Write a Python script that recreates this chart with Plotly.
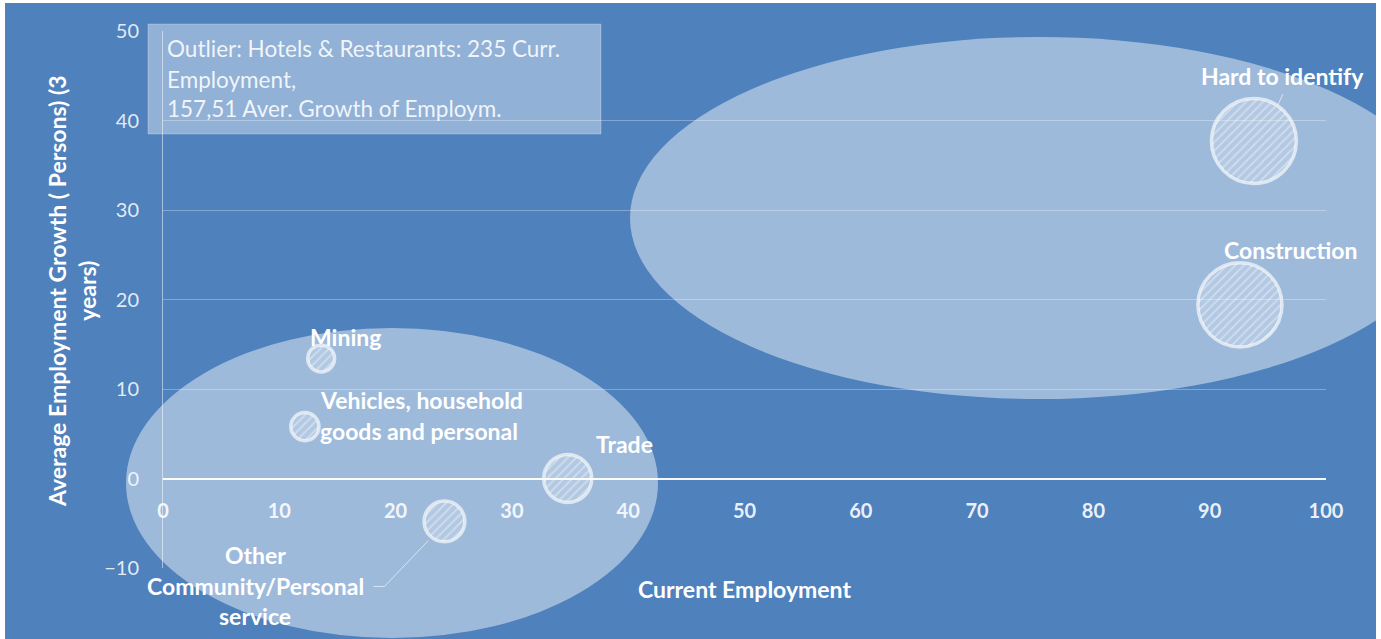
import numpy as np
import plotly.graph_objects as go

# ---------------- data ----------------
sectors = ["Hard to identify", "Construction", "Trade",
           "Other Community/Personal service", "Mining",
           "Vehicles, household goods and personal"]
current_employment = [93.8, 92.6, 34.8, 24.2, 13.6, 12.2]
avg_growth = [37.7, 19.4, 0.0, -4.8, 13.4, 5.8]
bubble_size = [100, 98, 32, 23, 10, 11]

x_ticks = [0, 10, 20, 30, 40, 50, 60, 70, 80, 90, 100]
y_ticks = [-10, 0, 10, 20, 30, 40, 50]

outlier_note = ["Outlier: Hotels & Restaurants: 235 Curr.",
                "Employment,",
                "157,51 Aver. Growth of Employm."]

# ---------------- layout constants ----------------
W, H = 1381, 639
L, R, T, B = 163, 55, 31, 71
PW, PH = W - L - R, H - T - B
XR, YR = (0, 100), (-10, 50)
px_x = PW / (XR[1] - XR[0])
px_y = PH / (YR[1] - YR[0])
MAXD = 85
sizeref = 2.0 * max(bubble_size) / MAXD ** 2

BG = "#4f81bd"
FONT = "Lato"


def pxp(p):
    return (p - L) / PW


def pyp(p):
    return (H - B - p) / PH


def data_to_paper_x(v):
    return (v - XR[0]) / (XR[1] - XR[0])


def data_to_paper_y(v):
    return (v - YR[0]) / (YR[1] - YR[0])


fig = go.Figure()

# hatched bubble interiors
theta = np.linspace(0, 2 * np.pi, 91)
for xv, yv, sv in zip(current_employment, avg_growth, bubble_size):
    r = np.sqrt(2 * sv / sizeref) / 2 - 0.5
    fig.add_trace(go.Scatter(
        x=xv + r / px_x * np.cos(theta),
        y=yv + r / px_y * np.sin(theta),
        mode="lines", fill="toself",
        line=dict(width=0, color="rgba(255,255,255,0)"),
        fillcolor="rgba(255,255,255,0.22)",
        fillpattern=dict(shape="/", fgcolor="rgba(255,255,255,0.75)",
                         bgcolor="rgba(255,255,255,0.22)", size=6, solidity=0.3),
        hoverinfo="skip", showlegend=False))

# bubble outlines (the data marks)
fig.add_trace(go.Scatter(
    x=current_employment, y=avg_growth, mode="markers", text=sectors,
    marker=dict(size=bubble_size, sizemode="area", sizeref=sizeref,
                color="rgba(255,255,255,0)",
                line=dict(color="rgba(255,255,255,0.93)", width=3.5)),
    hovertemplate="%{text}<br>%{x}, %{y}<extra></extra>", showlegend=False))

shapes = []
# cluster ellipses
shapes.append(dict(type="circle", xref="paper", yref="paper", layer="below",
                   x0=pxp(630), x1=pxp(1448), y0=pyp(399), y1=pyp(37),
                   fillcolor="rgba(255,255,255,0.45)", line=dict(width=0)))
shapes.append(dict(type="circle", xref="paper", yref="paper", layer="below",
                   x0=pxp(126), x1=pxp(658), y0=pyp(638), y1=pyp(328),
                   fillcolor="rgba(255,255,255,0.45)", line=dict(width=0)))
# outlier note box
shapes.append(dict(type="rect", xref="paper", yref="paper", layer="below",
                   x0=pxp(148), x1=pxp(601), y0=pyp(134), y1=pyp(24),
                   fillcolor="rgba(255,255,255,0.38)",
                   line=dict(width=1, color="rgba(255,255,255,0.25)")))
# leader lines (paper-referenced so they are not clipped by the plot area)
shapes.append(dict(type="path", xref="paper", yref="paper", xsizemode="pixel", ysizemode="pixel",
                   xanchor=data_to_paper_x(current_employment[3]),
                   yanchor=data_to_paper_y(avg_growth[3]),
                   path="M -71,-65 L -60,-65 L -16,-19",
                   line=dict(color="rgba(255,255,255,0.6)", width=1)))
shapes.append(dict(type="path", xref="paper", yref="paper", xsizemode="pixel", ysizemode="pixel",
                   xanchor=data_to_paper_x(current_employment[0]),
                   yanchor=data_to_paper_y(avg_growth[0]),
                   path="M 29,47 L 24,36",
                   line=dict(color="rgba(255,255,255,0.6)", width=1)))
# white frame edges
for x0, x1, y0, y1 in [(0, 5, 639, 0), (0, 1381, 3, 0), (1376, 1381, 639, 0)]:
    shapes.append(dict(type="rect", xref="paper", yref="paper", layer="above",
                       x0=pxp(x0), x1=pxp(x1), y0=pyp(y0), y1=pyp(y1),
                       fillcolor="white", line=dict(width=0)))

ann = []
lab_font = dict(family=FONT, size=23, color="white", weight="bold")


def label(i, text, dx, dy, xanchor="center"):
    ann.append(dict(x=current_employment[i], y=avg_growth[i], xref="x", yref="y",
                    text=text, showarrow=False, xshift=dx, yshift=dy,
                    xanchor=xanchor, yanchor="middle", font=lab_font))


label(0, "Hard to identify", 29, 65)
label(1, "Construction", 51, 55)
label(2, "Trade", 57, 35)
label(4, "Mining", 24, 22)
label(5, "Vehicles, household", 13, 27, "left")
label(5, "goods and personal", 13, -4, "left")
label(3, "Other", -189, -34)
label(3, "Community/Personal", -189, -65)
label(3, "service", -189, -95)

for line_txt, yc in zip(outlier_note, [49, 79, 109]):
    ann.append(dict(x=pxp(168), y=pyp(yc), xref="paper", yref="paper",
                    text=line_txt, showarrow=False, xanchor="left", yanchor="middle",
                    xshift=-3,
                    font=dict(family=FONT, size=22.5, color="rgba(255,255,255,0.88)")))

ann.append(dict(x=0.5, y=pyp(589), xref="paper", yref="paper",
                text="Current Employment", showarrow=False,
                xanchor="center", yanchor="middle", font=lab_font))
ann.append(dict(x=pxp(72), y=pyp(291), xref="paper", yref="paper",
                text="Average Employment Growth ( Persons) (3<br>years)",
                textangle=-90, showarrow=False, xanchor="center", yanchor="middle",
                font=dict(family=FONT, size=23, color="white", weight="bold")))

fig.update_layout(
    width=W, height=H,
    margin=dict(l=L, r=R, t=T, b=B, pad=0),
    paper_bgcolor=BG, plot_bgcolor="rgba(0,0,0,0)",
    shapes=shapes, annotations=ann, showlegend=False,
    xaxis=dict(range=list(XR), tickvals=x_ticks, showgrid=False, zeroline=False,
               showline=False, anchor="free", position=data_to_paper_y(0),
               ticks="", ticklabelstandoff=18,
               tickfont=dict(family=FONT, size=20, color="rgba(255,255,255,0.9)", weight="bold"),
               fixedrange=True),
    yaxis=dict(range=list(YR), tickvals=y_ticks, showgrid=True,
               gridcolor="rgba(255,255,255,0.3)", gridwidth=1,
               zeroline=True, zerolinecolor="rgba(255,255,255,0.95)", zerolinewidth=2,
               showline=True, linecolor="rgba(255,255,255,0.5)", linewidth=1,
               ticks="", ticklabelstandoff=19,
               tickfont=dict(family=FONT, size=20, color="rgba(255,255,255,0.85)"),
               fixedrange=True),
)

fig.write_html("out.html")
